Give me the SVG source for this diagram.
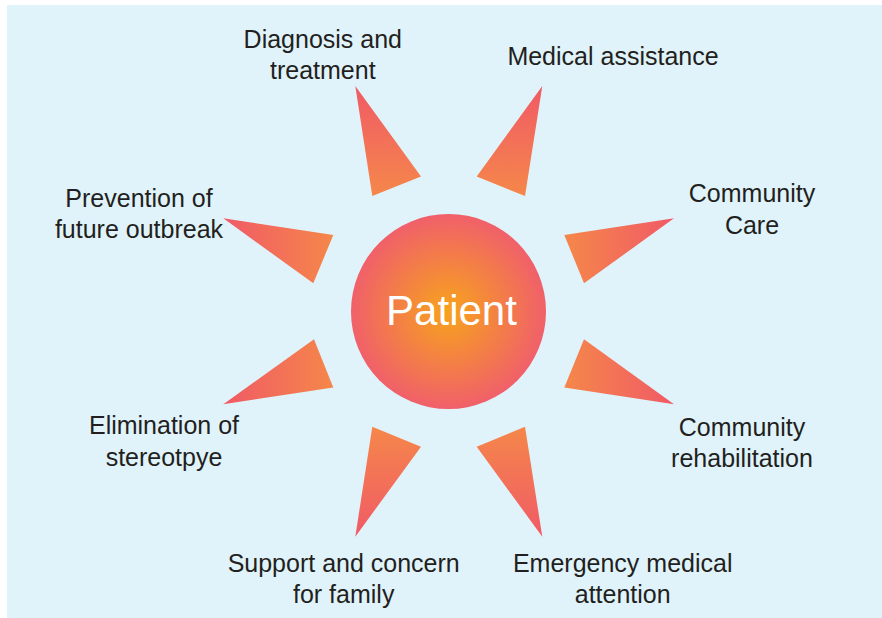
<svg xmlns="http://www.w3.org/2000/svg" width="882" height="618" viewBox="0 0 882 618">
  <style>
    .lbl { font-family: "Liberation Sans", Arial, sans-serif; font-size: 25px; fill: #231F20; text-anchor: middle; }
    .core { font-family: "Liberation Sans", Arial, sans-serif; font-size: 42px; fill: #FFFFFF; text-anchor: middle; }
  </style>
  <defs>
    <!-- ray fills: red at the tip, orange at the base -->
    <linearGradient id="rayDown" x1="0" y1="0" x2="0" y2="1">
      <stop offset="0" stop-color="#F05A66"/>
      <stop offset="1" stop-color="#F5874A"/>
    </linearGradient>
    <linearGradient id="rayUp" x1="0" y1="1" x2="0" y2="0">
      <stop offset="0" stop-color="#F05A66"/>
      <stop offset="1" stop-color="#F5874A"/>
    </linearGradient>
    <linearGradient id="rayRight" x1="0" y1="0" x2="1" y2="0">
      <stop offset="0" stop-color="#F05A66"/>
      <stop offset="1" stop-color="#F5874A"/>
    </linearGradient>
    <linearGradient id="rayLeft" x1="1" y1="0" x2="0" y2="0">
      <stop offset="0" stop-color="#F05A66"/>
      <stop offset="1" stop-color="#F5874A"/>
    </linearGradient>
    <radialGradient id="sun" cx="0.5" cy="0.5" r="0.5">
      <stop offset="0" stop-color="#F7A31C"/>
      <stop offset="1" stop-color="#F0606A"/>
    </radialGradient>
  </defs>

  <rect x="7" y="5" width="875" height="613" fill="#E0F3FA"/>

  <!-- rays around the centre -->
  <g id="rays">
    <polygon points="355.3,86 421,176.5 372.3,196" fill="url(#rayDown)"/>
    <polygon points="542.3,86 476.7,176.5 525,196" fill="url(#rayDown)"/>
    <polygon points="223.3,218.3 333.3,235 313.3,283.3" fill="url(#rayRight)"/>
    <polygon points="674,218.3 564.3,235 584,283.3" fill="url(#rayLeft)"/>
    <polygon points="223.3,404.3 314,339.3 333.3,387.5" fill="url(#rayRight)"/>
    <polygon points="674,404.3 584,339.3 564.3,387.5" fill="url(#rayLeft)"/>
    <polygon points="355.3,536.7 372.3,426.7 421,446.7" fill="url(#rayUp)"/>
    <polygon points="542.3,536.7 525,426.7 476.7,446.7" fill="url(#rayUp)"/>
  </g>

  <g id="patient">
    <circle cx="448.5" cy="311.5" r="97.5" fill="url(#sun)"/>
    <text class="core" x="451.5" y="325">Patient</text>
  </g>

  <g id="diagnosis">
    <text class="lbl" x="322.8" y="48.3">Diagnosis and</text>
    <text class="lbl" x="322.8" y="79.3">treatment</text>
  </g>
  <g id="medical-assistance">
    <text class="lbl" x="613" y="65">Medical assistance</text>
  </g>
  <g id="community-care">
    <text class="lbl" x="752" y="202">Community</text>
    <text class="lbl" x="752" y="234">Care</text>
  </g>
  <g id="community-rehabilitation">
    <text class="lbl" x="742" y="436">Community</text>
    <text class="lbl" x="742" y="467">rehabilitation</text>
  </g>
  <g id="emergency">
    <text class="lbl" x="622.7" y="572.3">Emergency medical</text>
    <text class="lbl" x="622.7" y="603.3">attention</text>
  </g>
  <g id="family-support">
    <text class="lbl" x="343.7" y="572.3">Support and concern</text>
    <text class="lbl" x="343.7" y="603.3">for family</text>
  </g>
  <g id="stereotype">
    <text class="lbl" x="164" y="434">Elimination of</text>
    <text class="lbl" x="164" y="466">stereotpye</text>
  </g>
  <g id="prevention">
    <text class="lbl" x="139" y="206.7">Prevention of</text>
    <text class="lbl" x="139" y="237.5">future outbreak</text>
  </g>
</svg>
